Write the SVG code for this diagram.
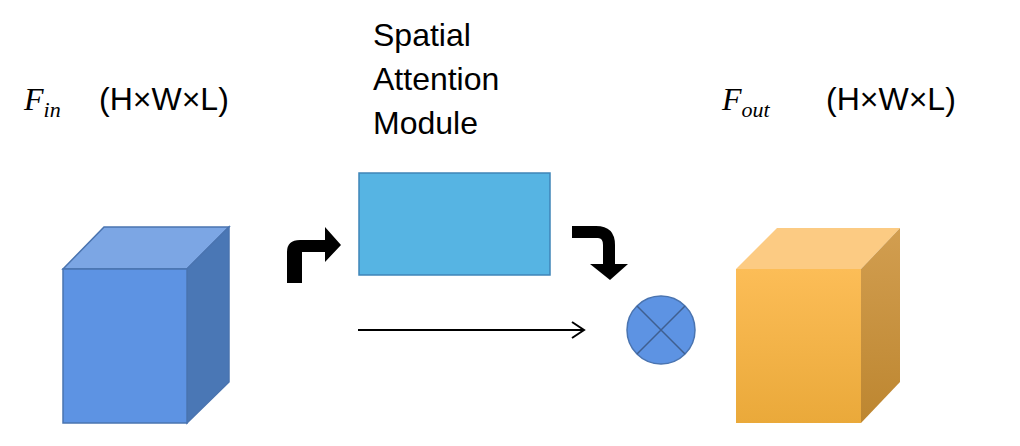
<svg xmlns="http://www.w3.org/2000/svg" width="1020" height="446" viewBox="0 0 1020 446">
<defs>
<linearGradient id="og" x1="0" y1="0" x2="0" y2="1"><stop offset="0" stop-color="#FCBD57"/><stop offset="1" stop-color="#EAA93A"/></linearGradient>
<linearGradient id="os" x1="0" y1="0" x2="0" y2="1"><stop offset="0" stop-color="#D29E50"/><stop offset="1" stop-color="#BD8630"/></linearGradient>
</defs>
<style>
text{font-family:"Liberation Sans",Arial,sans-serif;font-size:32px;fill:#000}
.m{font-family:"Liberation Serif",serif;font-style:italic}
.b{stroke:#4A74B0;stroke-width:1.5}
</style>
<rect width="1020" height="446" fill="#fff"/>
<g id="fin">
<polygon class="b" points="63,269 104,227 229,227 187,269" fill="#7CA6E4"/>
<polygon class="b" points="187,269 229,227 229,382 187,423" fill="#4A77B5"/>
<rect class="b" x="63" y="269" width="124" height="154" fill="#5D93E3"/>
<text x="24" y="110" class="m">F<tspan font-size="22" dy="7">in</tspan></text>
<text x="99" y="110">(H×W×L)</text>
</g>
<g id="sam">
<rect x="359" y="173" width="191" height="102" fill="#56B4E3" stroke="#3F85B8" stroke-width="1.5"/>
<text x="373" y="46">Spatial</text>
<text x="373" y="90">Attention</text>
<text x="373" y="134">Module</text>
</g>
<g id="mul">
<circle cx="661" cy="330" r="34" fill="#5D93E3" stroke="#4A74B0" stroke-width="1.5"/>
<path d="M637,306 L685,354 M685,306 L637,354" stroke="#3F5F90" stroke-width="1.5"/>
</g>
<g id="fout">
<polygon points="736,269 777,228 900,228 861,269" fill="#FCCB83"/>
<polygon points="861,269 900,228 900,382 861,423" fill="url(#os)"/>
<rect x="736" y="269" width="125" height="154" fill="url(#og)"/>
<text x="722" y="110" class="m">F<tspan font-size="22" dy="7">out</tspan></text>
<text x="826" y="110">(H×W×L)</text>
</g>
<g id="connectors">
<path d="M287,283 V252 Q287,240 300,240 H325 V227 L341,245 L325,262 V252 H302 V283 Z" fill="#000"/>
<path d="M572,226 V238 H598 Q603,238 603,245 V264 H590 L610,280 L628,264 H615 V245 Q615,226 596,226 Z" fill="#000"/>
<line x1="358" y1="330" x2="583" y2="330" stroke="#000" stroke-width="2"/>
<path d="M572,322 L584,330 L572,338" fill="none" stroke="#000" stroke-width="2"/>
</g>
</svg>
